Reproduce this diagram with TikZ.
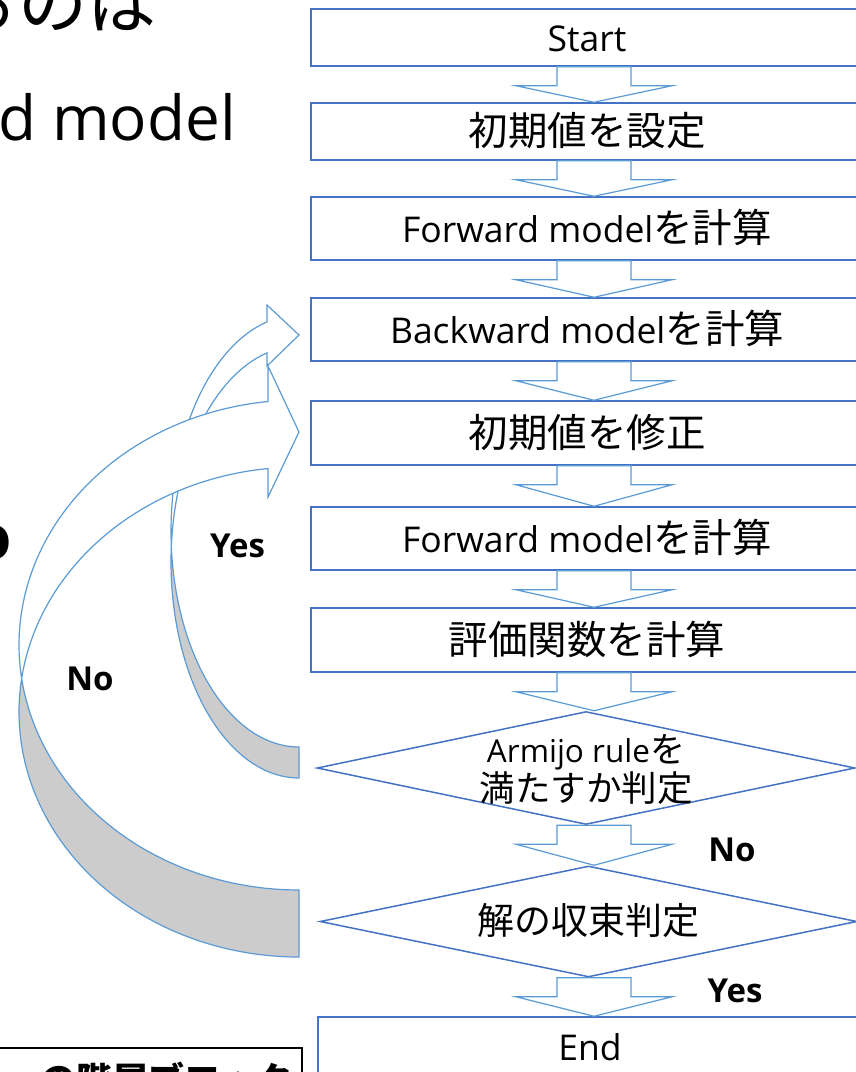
\documentclass[tikz,border=0pt]{standalone}
\usepackage{fontspec}
\setmainfont{Open Sans}
\newfontfamily\cjk{Noto Sans CJK JP}
\usetikzlibrary{calc,shapes.geometric}
\definecolor{boxblue}{RGB}{68,114,196}
\definecolor{arrblue}{RGB}{91,155,213}
\definecolor{backgray}{RGB}{204,204,204}
\newcommand\lat[1]{{\fontsize{35.5}{40}\selectfont #1}}
\newcommand\jpn[1]{{\cjk\fontsize{39.5}{44}\selectfont #1}}
\newcommand\flowarrow[2]{%
  \draw[flowarr] let \p1=(#1.south), \p2=(#2.north), \p3=(axis) in
    (\x3-37pt,\y1) -- (\x3-37pt,\y1-19pt) -- (\x3-78pt,\y1-19pt) -- (\x3,\y2)
    -- (\x3+78pt,\y1-19pt) -- (\x3+37pt,\y1-19pt) -- (\x3+37pt,\y1) -- cycle;}
\begin{document}
\begin{tikzpicture}[x=1pt,y=-1pt,
  flowbox/.style={draw=boxblue, line width=1.5pt, rectangle, inner sep=0pt,
     minimum width=552pt, text height=28pt, text depth=0pt},
  flowdiam/.style={draw=boxblue, line width=1.5pt, diamond, inner sep=0pt},
  flowarr/.style={draw=arrblue, line width=1.2pt, line join=miter},
  frontpart/.style={draw=arrblue, line width=1.2pt, fill=white, line join=miter},
  backpart/.style={draw=arrblue, line width=1.2pt, fill=backgray},
  lbl/.style={anchor=base, inner sep=0pt, font=\fontsize{33}{38}\selectfont\bfseries}]
\useasboundingbox (0,0) rectangle (856,1072);
\clip (0,0) rectangle (856,1072);
\fill[white] (0,0) rectangle (856,1072);

% slide text fragments
\node[anchor=base east, inner sep=0pt] (tl1) at (157,28) {{\cjk\fontsize{69}{80}\selectfont るのは}};
\node[anchor=base east, inner sep=0pt] (tl2) at (236,140) {{\fontsize{62}{70}\selectfont d model}};
\node[anchor=base east, inner sep=0pt] (tl3) at (12,559) {{\fontsize{62}{70}\selectfont\bfseries o}};
\draw[black, line width=1.5pt] (-5,1048) rectangle (302,1110);
\node[anchor=base west, inner sep=0pt] (bl) at (40,1093) {{\cjk\bfseries\fontsize{36}{40}\selectfont の階層ブロック}};

% Yes loop arrow
\filldraw[backpart] plot[domain=175.88:90, samples=50, variable=\t] ({299+128*cos(\t)},{531+216*sin(\t)})
   -- plot[domain=90:184.12, samples=50, variable=\t] ({299+128*cos(\t)},{562+216*sin(\t)}) -- cycle;
\filldraw[frontpart] plot[domain=175.88:255.52, samples=50, variable=\t] ({299+128*cos(\t)},{531+216*sin(\t)})
   -- (267,305) -- (299,335) -- (267,366)
   -- plot[domain=255.52:184.12, samples=50, variable=\t] ({299+128*cos(\t)},{562+216*sin(\t)}) -- cycle;

% No loop arrow
\filldraw[backpart] plot[domain=172.14:90, samples=60, variable=\t] ({299+280*cos(\t)},{645+245*sin(\t)})
   -- plot[domain=90:187.86, samples=60, variable=\t] ({299+280*cos(\t)},{712+245*sin(\t)}) -- cycle;
\filldraw[frontpart] plot[domain=172.14:263.64, samples=60, variable=\t] ({299+280*cos(\t)},{645+245*sin(\t)})
   -- (268,366) -- (299,432) -- (268,497)
   -- plot[domain=263.64:187.86, samples=60, variable=\t] ({299+280*cos(\t)},{712+245*sin(\t)}) -- cycle;

% flow boxes
\node[flowbox, minimum height=57pt] (b1) at (587,37.5) {\lat{Start}};
\node[flowbox, minimum height=57pt] (b2) at (587,131.5) {\jpn{初期値を設定}};
\node[flowbox, minimum height=63pt] (b3) at (587,228.5) {\lat{Forward model}\jpn{を計算}};
\node[flowbox, minimum height=63pt] (b4) at (587,329.5) {\lat{Backward model}\jpn{を計算}};
\node[flowbox, minimum height=64pt] (b5) at (587,433) {\jpn{初期値を修正}};
\node[flowbox, minimum height=63pt] (b6) at (587,538.5) {\lat{Forward model}\jpn{を計算}};
\node[flowbox, minimum height=64pt] (b7) at (587,640) {\jpn{評価関数を計算}};
\node[flowdiam, minimum width=538pt, minimum height=113pt] (d1) at (586,768) {};
\node[flowdiam, minimum width=537pt, minimum height=111pt] (d2) at (588.5,921.5) {};
\node[flowbox, minimum width=544pt, minimum height=58pt] (endbox) at (590,1046) {\lat{End}};

\node[anchor=base, inner sep=0pt] (d1a) at ([yshift=6pt]d1.center)
  {{\fontsize{31.5}{36}\selectfont Armijo rule}{\cjk\fontsize{35}{40}\selectfont を}};
\node[anchor=base, inner sep=0pt] (d1b) at ([yshift=-33pt]d1.center)
  {{\cjk\fontsize{35.5}{40}\selectfont 満たすか判定}};
\node[anchor=base, inner sep=0pt] (d2t) at ([yshift=-13pt]d2.center)
  {{\cjk\fontsize{37}{42}\selectfont 解の収束判定}};

% block arrows
\coordinate (axis) at (594,0);
\flowarrow{b1}{b2}
\flowarrow{b2}{b3}
\flowarrow{b3}{b4}
\flowarrow{b4}{b5}
\flowarrow{b5}{b6}
\flowarrow{b6}{b7}
\flowarrow{b7}{d1}
\flowarrow{d1}{d2}
\flowarrow{d2}{endbox}

% labels
\node[lbl] (lyes1) at (237.5,557) {Yes};
\node[lbl] (lno1) at (90,690) {No};
\node[lbl] (lno2) at (732,861) {No};
\node[lbl] (lyes2) at (735,1002) {Yes};
\end{tikzpicture}
\end{document}
